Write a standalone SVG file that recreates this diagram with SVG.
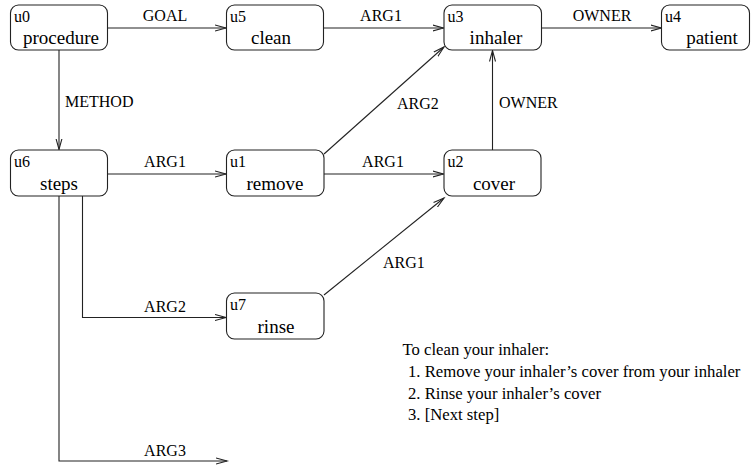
<svg xmlns="http://www.w3.org/2000/svg" width="751" height="465" viewBox="0 0 751 465">
<defs>
<marker id="ah" markerWidth="14" markerHeight="8" refX="11" refY="4" orient="auto" markerUnits="userSpaceOnUse">
<path d="M0,1 L11,4 L0,7" fill="none" stroke="#222" stroke-width="1.1"/>
</marker>
</defs>
<g id="connectors" fill="none" stroke="#222" stroke-width="1.1" marker-end="url(#ah)">
<path d="M107,28 H226"/>
<path d="M323,28 H443.5"/>
<path d="M541.5,28 H661.5"/>
<path d="M59,50 V149.5"/>
<path d="M107,174 H226"/>
<path d="M324,174 H443.5"/>
<path d="M324,154 L444,47"/>
<path d="M492.5,150 V50.5"/>
<path d="M82.5,196 V317.5 H226"/>
<path d="M324,295 L444,198"/>
<path d="M59,196 V461 H227"/>
</g>
<g id="labels" font-size="16" fill="#000">
<text style="font-family:'Liberation Serif',serif !important" text-anchor="middle" x="165" y="21">GOAL</text>
<text style="font-family:'Liberation Serif',serif !important" text-anchor="middle" x="381" y="21">ARG1</text>
<text style="font-family:'Liberation Serif',serif !important" text-anchor="middle" x="602" y="21">OWNER</text>
<text style="font-family:'Liberation Serif',serif !important" x="65" y="107">METHOD</text>
<text style="font-family:'Liberation Serif',serif !important" text-anchor="middle" x="165" y="167">ARG1</text>
<text style="font-family:'Liberation Serif',serif !important" text-anchor="middle" x="383" y="167">ARG1</text>
<text style="font-family:'Liberation Serif',serif !important" x="397" y="109">ARG2</text>
<text style="font-family:'Liberation Serif',serif !important" x="499" y="108">OWNER</text>
<text style="font-family:'Liberation Serif',serif !important" text-anchor="middle" x="165" y="312">ARG2</text>
<text style="font-family:'Liberation Serif',serif !important" x="383" y="268">ARG1</text>
<text style="font-family:'Liberation Serif',serif !important" text-anchor="middle" x="165" y="456">ARG3</text>
</g>
<g id="nodes" fill="#000">
<g id="u0"><rect fill="#fff" stroke="#222" stroke-width="1.1" x="10.5" y="5" width="97" height="45" rx="8"/><text style="font-family:'Liberation Serif',serif !important" font-size="16" x="14" y="22">u0</text><text style="font-family:'Liberation Serif',serif !important" font-size="19" text-anchor="middle" x="61" y="44">procedure</text></g>
<g id="u5"><rect fill="#fff" stroke="#222" stroke-width="1.1" x="226.5" y="5" width="97" height="45" rx="8"/><text style="font-family:'Liberation Serif',serif !important" font-size="16" x="230" y="22">u5</text><text style="font-family:'Liberation Serif',serif !important" font-size="19" text-anchor="middle" x="271" y="44">clean</text></g>
<g id="u3"><rect fill="#fff" stroke="#222" stroke-width="1.1" x="444" y="5" width="97.5" height="45" rx="8"/><text style="font-family:'Liberation Serif',serif !important" font-size="16" x="447.5" y="22">u3</text><text style="font-family:'Liberation Serif',serif !important" font-size="19" text-anchor="middle" x="496" y="44">inhaler</text></g>
<g id="u4"><rect fill="#fff" stroke="#222" stroke-width="1.1" x="661.5" y="5" width="88" height="45" rx="8"/><text style="font-family:'Liberation Serif',serif !important" font-size="16" x="665" y="22">u4</text><text style="font-family:'Liberation Serif',serif !important" font-size="19" text-anchor="middle" x="712" y="44">patient</text></g>
<g id="u6"><rect fill="#fff" stroke="#222" stroke-width="1.1" x="10.5" y="150" width="97" height="46" rx="8"/><text style="font-family:'Liberation Serif',serif !important" font-size="16" x="14" y="167">u6</text><text style="font-family:'Liberation Serif',serif !important" font-size="19" text-anchor="middle" x="59" y="190">steps</text></g>
<g id="u1"><rect fill="#fff" stroke="#222" stroke-width="1.1" x="226.5" y="150" width="97.5" height="46" rx="8"/><text style="font-family:'Liberation Serif',serif !important" font-size="16" x="230" y="167">u1</text><text style="font-family:'Liberation Serif',serif !important" font-size="19" text-anchor="middle" x="275" y="190">remove</text></g>
<g id="u2"><rect fill="#fff" stroke="#222" stroke-width="1.1" x="444" y="150" width="97" height="46" rx="8"/><text style="font-family:'Liberation Serif',serif !important" font-size="16" x="447.5" y="167">u2</text><text style="font-family:'Liberation Serif',serif !important" font-size="19" text-anchor="middle" x="494" y="190">cover</text></g>
<g id="u7"><rect fill="#fff" stroke="#222" stroke-width="1.1" x="226.5" y="293" width="97.5" height="46" rx="8"/><text style="font-family:'Liberation Serif',serif !important" font-size="16" x="230" y="310">u7</text><text style="font-family:'Liberation Serif',serif !important" font-size="19" text-anchor="middle" x="276" y="333">rinse</text></g>
</g>
<g id="text" font-size="16.7" fill="#000">
<text style="font-family:'Liberation Serif',serif !important" x="402.5" y="355">To clean your inhaler:</text>
<text style="font-family:'Liberation Serif',serif !important" x="408" y="377">1. Remove your inhaler&#8217;s cover from your inhaler</text>
<text style="font-family:'Liberation Serif',serif !important" x="408" y="399">2. Rinse your inhaler&#8217;s cover</text>
<text style="font-family:'Liberation Serif',serif !important" x="408" y="420">3. [Next step]</text>
</g>
</svg>
